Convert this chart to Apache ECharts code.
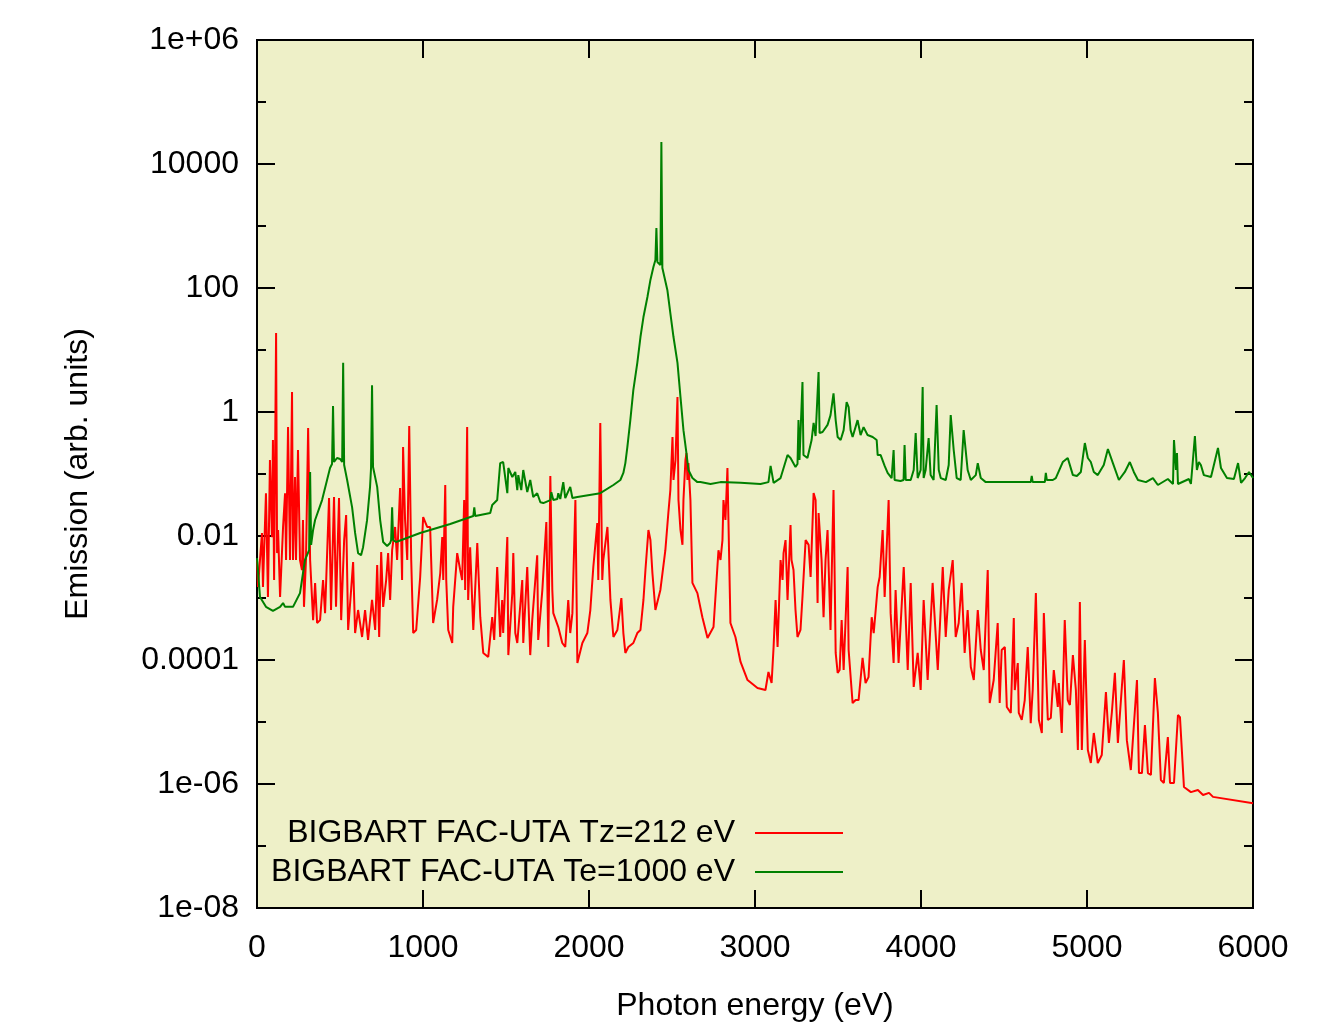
<!DOCTYPE html>
<html>
<head>
<meta charset="utf-8">
<script src="https://cdn.jsdelivr.net/npm/echarts@6/dist/echarts.min.js"></script>
<style>
html,body{margin:0;padding:0;background:#fff;}
#chart{width:1338px;height:1027px;}
</style>
</head>
<body>
<div id="chart"></div>
<script>
// ---- Data (photon energy in eV, emission in arb. units) ----
const redEnergy = [0,6,30,36,54,66,78,90,96,103,115,121,127,139,157,169,175,187,199,211,217,229,235,247,259,271,277,283,295,308,320,338,350,362,380,398,410,434,446,464,476,494,507,525,537,549,567,579,591,609,633,651,669,693,712,724,736,748,760,778,790,802,814,832,844,862,874,880,892,905,917,929,941,959,983,1001,1025,1043,1061,1085,1104,1116,1122,1134,1140,1152,1176,1182,1206,1224,1236,1248,1254,1266,1272,1284,1303,1327,1345,1363,1393,1417,1429,1447,1465,1477,1483,1508,1514,1538,1544,1556,1568,1598,1604,1628,1646,1658,1688,1694,1719,1743,1755,1767,1779,1785,1815,1839,1857,1875,1887,1900,1918,1930,1960,1990,2008,2026,2050,2056,2068,2080,2086,2111,2129,2147,2171,2195,2207,2219,2237,2267,2291,2310,2328,2340,2358,2370,2382,2400,2430,2460,2478,2490,2503,2509,2521,2533,2539,2551,2563,2569,2581,2587,2593,2599,2611,2623,2653,2683,2714,2750,2780,2792,2804,2810,2822,2834,2840,2852,2882,2913,2955,3015,3063,3081,3100,3112,3124,3136,3154,3166,3172,3184,3196,3214,3220,3232,3244,3256,3274,3286,3305,3323,3335,3353,3365,3377,3383,3401,3413,3425,3437,3455,3473,3486,3498,3510,3522,3534,3558,3564,3588,3606,3624,3648,3666,3684,3703,3715,3739,3751,3769,3781,3805,3817,3835,3847,3865,3896,3920,3938,3956,3980,3998,4016,4040,4070,4101,4131,4149,4167,4191,4209,4227,4245,4263,4281,4300,4318,4342,4360,4378,4402,4414,4438,4462,4474,4486,4505,4517,4541,4559,4565,4583,4589,4607,4625,4643,4661,4673,4692,4710,4728,4740,4764,4782,4800,4824,4830,4848,4866,4884,4897,4915,4933,4945,4957,4969,4987,5005,5023,5041,5065,5089,5114,5132,5150,5168,5186,5210,5222,5240,5264,5301,5313,5331,5349,5367,5385,5409,5427,5445,5463,5487,5500,5524,5548,5560,5584,5626,5668,5699,5735,5759,6000];
const redEmission = [4.1e-3,1.5e-3,1.12e-2,1.5e-3,4.9e-2,1.04e-3,0.168,9.6e-3,0.353,1.95e-3,18.8,5.3e-3,1.25e-2,1.04e-3,1.4e-2,4.9e-2,4.1e-3,0.573,4.1e-3,2.1,4.1e-3,8.95e-2,4.1e-3,0.244,4.1e-3,2.83e-3,1.81e-2,7.2e-4,4.1e-3,0.552,4.1e-3,4.4e-4,1.75e-3,3.95e-4,4.4e-4,1.95e-3,5.7e-4,4.1e-2,6.4e-4,4.25e-2,7.2e-4,4.1e-2,4.4e-4,8.6e-3,2.18e-2,3.05e-4,1.35e-3,3.8e-3,2.72e-4,6.4e-4,2.35e-4,6.4e-4,2.1e-4,9.3e-4,3.05e-4,3.4e-3,2.35e-4,5.5e-3,7.2e-4,1.95e-3,5.3e-3,9.3e-4,5.9e-3,1.4e-2,4.1e-3,5.95e-2,1.95e-3,0.272,1.81e-2,4.1e-3,0.594,4.1e-3,2.72e-4,3.05e-4,2.18e-3,2.02e-2,1.4e-2,1.4e-2,3.95e-4,9.3e-4,2.53e-3,9.6e-3,1.95e-3,6.65e-2,1.95e-3,3.05e-4,1.88e-4,7.2e-4,5.3e-3,2.83e-3,1.95e-3,3.8e-2,1.35e-3,0.573,9.3e-4,6.6e-3,3.05e-4,7.7e-3,4.9e-4,1.3e-4,1.12e-4,4.9e-4,2.1e-4,3.16e-3,2.35e-4,9.3e-4,2.72e-4,9.6e-3,1.2e-4,1.2e-3,5.3e-3,2.72e-4,1.88e-4,1.95e-3,1.88e-4,3.16e-3,1.2e-4,4.4e-4,4.9e-3,2.1e-4,1.35e-3,1.68e-2,1.62e-4,9.3e-2,1.35e-3,5.7e-4,3.4e-4,1.88e-4,1.62e-4,9.3e-4,2.72e-4,5.7e-4,3.8e-2,8.95e-5,1.88e-4,2.72e-4,6.4e-4,3.16e-3,1.62e-2,1.95e-3,0.665,1.95e-3,4.1e-3,1.4e-2,9.3e-4,2.35e-4,3.05e-4,1.0e-3,2.72e-4,1.3e-4,1.62e-4,1.88e-4,2.72e-4,3.05e-4,9.3e-4,2.83e-3,1.25e-2,8.6e-3,2.53e-3,6.4e-4,1.35e-3,5.9e-3,2.35e-2,5.5e-2,0.395,8.0e-2,0.168,1.75,3.8e-2,1.25e-2,7.2e-3,3.8e-2,0.168,0.218,8.0e-2,0.15,3.8e-2,1.75e-3,1.2e-3,4.9e-4,2.26e-4,3.4e-4,5.9e-3,4.1e-3,8.6e-3,3.8e-2,1.81e-2,0.125,1.81e-2,3.95e-4,2.35e-4,9.3e-5,4.75e-5,3.53e-5,3.28e-5,6.4e-5,4.25e-5,1.62e-4,9.3e-4,1.62e-4,4.1e-3,1.95e-3,5.3e-3,8.6e-3,9.3e-4,1.5e-2,4.1e-3,2.83e-3,6.4e-4,2.35e-4,3.05e-4,1.04e-3,8.6e-3,7.2e-3,2.18e-3,4.94e-2,3.8e-2,8.3e-4,2.35e-2,4.1e-3,4.9e-4,4.1e-3,1.25e-2,3.05e-4,5.52e-2,1.3e-4,6.2e-5,6.9e-5,4.4e-4,6.9e-5,3.16e-3,1.45e-4,2.02e-5,2.26e-5,2.26e-5,1.08e-4,4.25e-5,5.3e-5,4.9e-4,2.72e-4,1.5e-3,2.18e-3,1.25e-2,1.04e-3,3.8e-2,5.7e-4,8.95e-5,1.35e-3,8.95e-5,3.16e-3,6.9e-5,1.75e-3,3.67e-5,1.3e-4,3.28e-5,9.3e-4,4.75e-5,1.75e-3,6.9e-5,3.16e-3,2.35e-4,1.35e-3,4.1e-3,2.35e-4,3.95e-4,1.75e-3,1.3e-4,6.4e-4,7.7e-5,4.75e-5,6.4e-4,1.45e-4,6.9e-5,2.83e-3,2.02e-5,4.75e-5,3.95e-4,2.02e-5,1.45e-4,1.62e-4,1.75e-5,1.4e-5,4.75e-4,3.28e-5,8.95e-5,1.4e-5,1.08e-5,2.26e-5,1.62e-4,9.6e-6,3.28e-5,1.2e-3,1.08e-5,6.65e-6,5.7e-4,1.08e-5,1.16e-5,6.9e-5,1.75e-5,4.25e-5,6.65e-6,4.4e-4,2.26e-5,1.88e-5,1.2e-4,3.28e-5,3.53e-6,8.6e-4,3.53e-6,2.1e-4,3.53e-6,2.18e-6,6.65e-6,2.18e-6,2.94e-6,3.05e-5,4.6e-6,1.45e-5,6.2e-5,4.6e-6,3.67e-5,1.0e-4,5.1e-6,1.68e-6,4.75e-5,1.5e-6,1.5e-6,8.95e-6,1.5e-6,1.4e-6,5.1e-5,1.4e-5,1.16e-6,1.04e-6,5.7e-6,1.04e-6,1.04e-6,1.3e-5,1.2e-5,8.95e-7,7.4e-7,8.0e-7,6.65e-7,7.2e-7,6.2e-7,4.9e-7];

const greenEnergy = [0,18,54,96,139,157,169,217,259,289,314,320,326,338,350,392,422,440,452,458,464,482,501,513,519,525,543,573,591,609,627,639,663,681,687,693,699,705,724,742,760,784,802,808,814,820,838,983,1164,1303,1309,1315,1405,1417,1447,1465,1483,1508,1514,1538,1556,1568,1574,1592,1604,1628,1646,1664,1688,1707,1725,1767,1773,1785,1809,1815,1827,1845,1857,1887,1900,1930,2068,2147,2189,2207,2219,2231,2249,2267,2291,2310,2328,2352,2370,2388,2400,2406,2412,2418,2430,2436,2442,2448,2472,2490,2509,2533,2551,2569,2587,2599,2623,2653,2671,2732,2792,2913,3033,3081,3094,3112,3154,3196,3214,3244,3256,3262,3268,3286,3292,3316,3341,3353,3365,3383,3389,3407,3437,3455,3473,3486,3498,3516,3534,3552,3564,3576,3588,3618,3636,3654,3678,3709,3733,3739,3757,3781,3799,3823,3835,3841,3877,3895,3901,3908,3938,3956,3968,3980,3998,4010,4016,4028,4046,4058,4076,4094,4107,4119,4149,4167,4179,4197,4215,4239,4257,4281,4300,4330,4342,4360,4390,4480,4661,4667,4673,4746,4752,4758,4794,4812,4854,4884,4915,4939,4963,4987,5005,5023,5041,5065,5101,5126,5156,5192,5228,5258,5282,5307,5355,5397,5427,5487,5518,5524,5530,5536,5542,5548,5614,5626,5650,5656,5662,5674,5686,5704,5747,5789,5807,5819,5843,5885,5910,5928,5952,5976,6000];
const greenEmission = [4.4e-3,1.04e-3,7.2e-4,6.2e-4,7.2e-4,8.3e-4,7.2e-4,7.2e-4,1.2e-3,4.1e-3,5.9e-3,0.108,7.2e-3,1.25e-2,1.81e-2,3.8e-2,8.0e-2,0.125,0.145,1.25,0.156,0.181,0.175,0.156,6.2,0.14,8.0e-2,2.9e-2,1.12e-2,5.3e-3,4.9e-3,6.6e-3,1.8e-2,6.2e-2,0.125,2.7,0.13,0.125,6.2e-2,1.81e-2,8.0e-3,6.9e-3,7.7e-3,8.6e-3,2.9e-2,8.6e-3,8.0e-3,1.12e-2,1.56e-2,2.1e-2,2.9e-2,2.1e-2,2.35e-2,3.16e-2,3.8e-2,0.15,0.156,4.9e-2,0.125,8.95e-2,0.108,5.5e-2,9.6e-2,5.5e-2,0.116,5.1e-2,8.0e-2,4.25e-2,4.9e-2,3.5e-2,3.4e-2,3.8e-2,5.1e-2,3.8e-2,3.95e-2,4.9e-2,3.95e-2,7.4e-2,4.1e-2,6.2e-2,4.1e-2,4.25e-2,4.9e-2,6.65e-2,8.0e-2,0.104,0.15,0.272,0.74,2.26,6.2,16.2,34,71.6,135,218,283,930,262,253,235,22600,210,195,93,39.5,16.2,6.2,1.75,0.51,0.218,0.116,8.6e-2,7.4e-2,7.4e-2,6.9e-2,7.4e-2,7.2e-2,6.9e-2,7.4e-2,0.135,7.2e-2,8.6e-2,0.202,0.181,0.13,0.145,0.74,0.168,3.05,0.202,0.181,0.353,0.665,0.41,4.4,0.458,0.475,0.62,0.89,2.0,0.74,0.395,0.353,0.51,1.45,1.2,0.51,0.395,0.74,0.425,0.57,0.425,0.395,0.353,0.202,0.202,0.135,0.104,8.6e-2,0.244,8.0e-2,7.7e-2,8.0e-2,0.294,8.0e-2,8.0e-2,0.116,0.458,8.6e-2,0.116,2.53,8.6e-2,0.116,0.38,9.6e-2,8.0e-2,1.3,0.116,8.6e-2,8.0e-2,0.14,0.89,0.244,8.6e-2,8.0e-2,0.51,0.116,8.0e-2,9.6e-2,0.15,8.6e-2,7.4e-2,7.4e-2,7.4e-2,9.3e-2,7.4e-2,7.4e-2,0.104,8.0e-2,8.0e-2,8.6e-2,0.156,0.181,9.6e-2,9.3e-2,0.108,0.316,0.181,0.156,0.108,9.6e-2,0.14,0.253,0.15,8.0e-2,0.108,0.156,0.108,8.0e-2,7.4e-2,8.6e-2,6.65e-2,8.3e-2,6.9e-2,0.353,0.367,0.116,0.218,6.9e-2,8.3e-2,6.9e-2,0.41,0.44,0.116,0.156,0.14,9.6e-2,8.95e-2,0.263,0.125,0.125,8.6e-2,8.3e-2,0.15,7.2e-2,8.6e-2,0.108,8.6e-2];

const seriesNames = ['BIGBART FAC-UTA Tz=212 eV', 'BIGBART FAC-UTA Te=1000 eV'];
const seriesColors = ['#ff0000', '#008000'];
const xTickValues = [0, 1000, 2000, 3000, 4000, 5000, 6000];
const yTickExponents = [-8, -6, -4, -2, 0, 2, 4, 6];
const yTickLabels = ['1e-08', '1e-06', '0.0001', '0.01', '1', '100', '10000', '1e+06'];
const xAxisTitle = 'Photon energy (eV)';
const yAxisTitle = 'Emission (arb. units)';

// ---- Chart ----
const FONT = '"Liberation Sans", Arial, sans-serif';
const FS = 32;
const chart = echarts.init(document.getElementById('chart'), null, {renderer: 'canvas'});

function zip(xs, ys) { return xs.map((x, i) => [x, ys[i]]); }
function yLabel(v) {
  const e = Math.round(Math.log10(v));
  const i = yTickExponents.indexOf(e);
  return i >= 0 ? yTickLabels[i] : '';
}
function xLabel(v) { return String(Math.round(v)); }

const black = {color: '#000', width: 2};
function yAx(pos, interval, tickLen, main) {
  return {
    type: 'log', logBase: 10, min: 1e-8, max: 1e6, interval: interval, position: pos,
    axisLine: {show: main, lineStyle: black},
    axisTick: {show: true, inside: true, length: tickLen, lineStyle: black},
    axisLabel: main && pos === 'left' ? {show: true, formatter: yLabel, fontSize: FS, fontFamily: FONT, color: '#000', margin: 18} : {show: false},
    splitLine: {show: false},
    name: main && pos === 'left' ? yAxisTitle : '',
    nameLocation: 'middle', nameGap: 163,
    nameTextStyle: {fontSize: FS, fontFamily: FONT, color: '#000'}
  };
}
function xAx(pos, main) {
  return {
    type: 'value', min: xTickValues[0], max: xTickValues[xTickValues.length - 1], interval: 1000, position: pos,
    axisLine: {show: true, onZero: false, lineStyle: black},
    axisTick: {show: true, inside: true, length: 18, lineStyle: black},
    axisLabel: main ? {show: true, formatter: xLabel, fontSize: FS, fontFamily: FONT, color: '#000', margin: 24} : {show: false},
    splitLine: {show: false},
    name: main ? xAxisTitle : '',
    nameLocation: 'middle', nameGap: 82,
    nameTextStyle: {fontSize: FS, fontFamily: FONT, color: '#000'}
  };
}

chart.setOption({
  animation: false,
  backgroundColor: '#ffffff',
  grid: {left: 257, right: 85, top: 40, bottom: 119, show: true, backgroundColor: '#eef0c8', borderColor: '#000', borderWidth: 2},
  xAxis: [xAx('bottom', true), xAx('top', false)],
  yAxis: [yAx('left', 2, 18, true), yAx('left', 1, 9, false), yAx('right', 2, 18, true), yAx('right', 1, 9, false)],
  legend: {
    orient: 'vertical', right: 490, top: 812, align: 'right',
    itemWidth: 88, itemHeight: 2, itemGap: 7, icon: 'rect',
    textStyle: {fontSize: FS, fontFamily: FONT, color: '#000', padding: [0, 15, 0, 0]},
    data: seriesNames
  },
  series: [
    {name: seriesNames[0], type: 'line', data: zip(redEnergy, redEmission), xAxisIndex: 0, yAxisIndex: 0,
     showSymbol: false, symbol: 'none', sampling: null, lineStyle: {color: seriesColors[0], width: 2}, itemStyle: {color: seriesColors[0]}, z: 3},
    {name: seriesNames[1], type: 'line', data: zip(greenEnergy, greenEmission), xAxisIndex: 0, yAxisIndex: 0,
     showSymbol: false, symbol: 'none', sampling: null, lineStyle: {color: seriesColors[1], width: 2}, itemStyle: {color: seriesColors[1]}, z: 4}
  ]
});
</script>
</body>
</html>
